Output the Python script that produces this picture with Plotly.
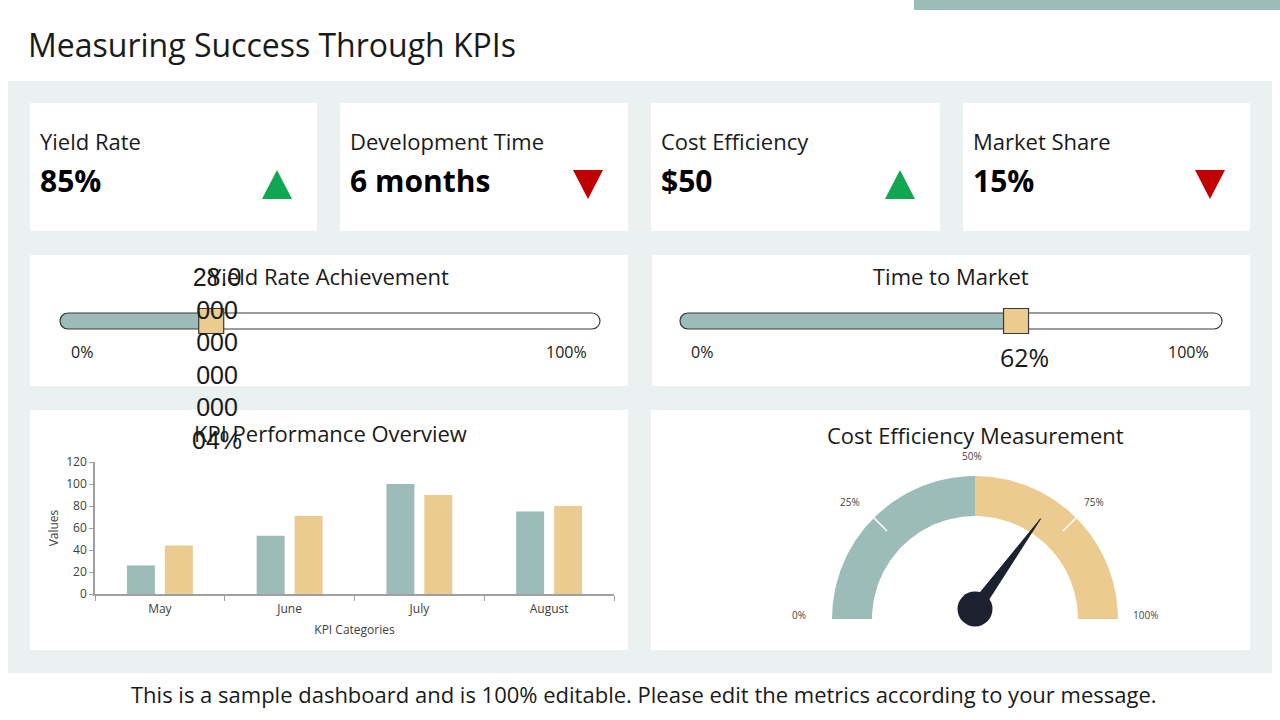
import numpy as np
import plotly.graph_objects as go

W, H = 1280, 720

# ---------------- data ----------------
kpi_names = ["Yield Rate", "Development Time", "Cost Efficiency", "Market Share"]
kpi_values = ["85%", "6 months", "$50", "15%"]
kpi_trend = ["up", "down", "up", "down"]

slider_titles = ["Yield Rate Achievement", "Time to Market"]
slider_values = [28.000000000000004, 62]
slider_labels = ["28.0<br>000<br>000<br>000<br>000<br>04%", "62%"]
slider_min_label = "0%"
slider_max_label = "100%"

months = ["May", "June", "July", "August"]
series_a = [26, 53, 100, 75]
series_b = [44, 71, 90, 80]

gauge_value = 70
gauge_band_edges = [0, 50, 100]
gauge_ticks = [0, 25, 50, 75, 100]
gauge_tick_labels = ["0%", "25%", "50%", "75%", "100%"]

title_text = "Measuring Success Through KPIs"
footer_text = ("This is a sample dashboard and is 100% editable. "
               "Please edit the metrics according to your message.")

# ---------------- style ----------------
TEAL = "#9bbcb9"
TAN = "#ebcb8f"
PANEL = "#ebf0f0"
DARK = "#1c2130"
TXT = "#1a1a1a"
F = "Open Sans"
GREEN = "#11a650"
RED = "#c00000"


def px(x):
    return x / W


def py(y):
    return 1 - y / H


def rect(x0, y0, x1, y1, color):
    return dict(type="rect", xref="paper", yref="paper", layer="below",
                x0=px(x0), x1=px(x1), y0=py(y1), y1=py(y0),
                fillcolor=color, line=dict(width=0))


def path_shape(pts, color):
    d = "M" + " L".join(f"{px(x):.5f},{py(y):.5f}" for x, y in pts) + " Z"
    return dict(type="path", xref="paper", yref="paper", layer="below", path=d,
                fillcolor=color, line=dict(color=color, width=0))


def track_path(x0, x1, yc, h):
    r = h / 2
    k = 0.5523 * r
    p = lambda x, y: f"{px(x):.5f},{py(y):.5f}"
    d = f"M{p(x0 + r, yc - r)} L{p(x1 - r, yc - r)}"
    d += f" C{p(x1 - r + k, yc - r)} {p(x1, yc - k)} {p(x1, yc)}"
    d += f" C{p(x1, yc + k)} {p(x1 - r + k, yc + r)} {p(x1 - r, yc + r)}"
    d += f" L{p(x0 + r, yc + r)}"
    d += f" C{p(x0 + r - k, yc + r)} {p(x0, yc + k)} {p(x0, yc)}"
    d += f" C{p(x0, yc - k)} {p(x0 + r - k, yc - r)} {p(x0 + r, yc - r)} Z"
    return dict(type="path", xref="paper", yref="paper", layer="below", path=d,
                fillcolor="white", line=dict(color="#3a3a3a", width=1.2))


def ann(x, y, text, size, color=TXT, xanchor="center", yanchor="middle",
        family=F, bold=False, **kw):
    if bold:
        text = f"<b>{text}</b>"
    return dict(xref="paper", yref="paper", x=px(x), y=py(y), text=text,
                showarrow=False, xanchor=xanchor, yanchor=yanchor,
                font=dict(size=size, color=color, family=family), **kw)


shapes = []
annotations = []

# page decorations
shapes.append(rect(914, 0, 1280, 10, TEAL))
shapes.append(rect(8, 81, 1272, 673, PANEL))
annotations.append(ann(26, 44, title_text, 32, xanchor="left"))
annotations.append(ann(644, 694, footer_text, 22))

# KPI cards
card_x = [(30, 317), (340, 628), (651, 940), (963, 1250)]
for (x0, x1), name, val, trend in zip(card_x, kpi_names, kpi_values, kpi_trend):
    shapes.append(rect(x0, 103, x1, 231, "white"))
    annotations.append(ann(x0 + 8, 141, name, 22, xanchor="left"))
    annotations.append(ann(x0 + 8, 180, val, 30, xanchor="left", bold=True,
                           color="#000000"))
    cx = x1 - 40
    if trend == "up":
        pts = [(cx - 15, 199), (cx + 15, 199), (cx, 170)]
        col = GREEN
    else:
        pts = [(cx - 15, 170), (cx + 15, 170), (cx, 199)]
        col = RED
    shapes.append(path_shape(pts, col))

# second / third row cards
row2 = [(30, 628), (652, 1250)]
for x0, x1 in row2:
    shapes.append(rect(x0, 255, x1, 386, "white"))
row3 = [(30, 628), (651, 1250)]
for x0, x1 in row3:
    shapes.append(rect(x0, 410, x1, 650, "white"))

fig = go.Figure()

# sliders
tracks = [(60, 600), (680, 1222)]
slider_axes = [("x2", "y2", "xaxis2", "yaxis2"), ("x3", "y3", "xaxis3", "yaxis3")]
layout_axes = {}
for i, ((t0, t1), title, val, (xa, ya, xn, yn)) in enumerate(
        zip(tracks, slider_titles, slider_values, slider_axes)):
    card_c = (row2[i][0] + row2[i][1]) / 2
    annotations.append(ann(card_c, 276, title, 22))
    shapes.append(track_path(t0, t1, 321, 16))
    annotations.append(ann(t0 + 22, 352, slider_min_label, 16))
    annotations.append(ann(t1 - 34, 352, slider_max_label, 16))
    layout_axes[xn] = dict(domain=[px(t0), px(t1)], range=[0, 100], visible=False,
                           fixedrange=True, anchor=ya)
    layout_axes[yn] = dict(domain=[py(329), py(313)], range=[0, 1], visible=False,
                           fixedrange=True, anchor=xa)
    unit = (t1 - t0) / 100.0
    rx = 8 / unit
    th = np.linspace(np.pi / 2, 3 * np.pi / 2, 30)
    xs = list(rx + rx * np.cos(th)) + [val, val, rx]
    ys = list(0.5 + 0.5 * np.sin(th)) + [0, 1, 1]
    fig.add_trace(go.Scatter(x=xs, y=ys, xaxis=xa, yaxis=ya, mode="lines",
                             fill="toself", fillcolor=TEAL, cliponaxis=False,
                             line=dict(color="#3a3a3a", width=1.2),
                             hoverinfo="skip", showlegend=False))
    fig.add_trace(go.Scatter(x=[val], y=[0.5], xaxis=xa, yaxis=ya, mode="markers",
                             cliponaxis=False,
                             marker=dict(symbol="square", size=25, color=TAN,
                                         line=dict(color="#3a3a3a", width=1.2)),
                             hoverinfo="skip", showlegend=False))

# slider value labels (as in the reference)
annotations.append(dict(xref="x2", yref="paper", x=slider_values[0], xshift=6,
                        y=py(358), text=slider_labels[0], showarrow=False,
                        xanchor="center", yanchor="middle",
                        font=dict(size=25, color=TXT, family="Liberation Sans")))
annotations.append(dict(xref="x3", yref="paper", x=slider_values[1], xshift=8,
                        y=py(357), text=slider_labels[1], showarrow=False,
                        xanchor="center", yanchor="middle",
                        font=dict(size=25, color=TXT, family=F)))

# bar chart
annotations.append(ann(330, 433, "KPI Performance Overview", 22))
fig.add_trace(go.Bar(x=months, y=series_a, marker=dict(color=TEAL, line=dict(width=0)),
                     showlegend=False, hoverinfo="skip"))
fig.add_trace(go.Bar(x=months, y=series_b, marker=dict(color=TAN, line=dict(width=0)),
                     showlegend=False, hoverinfo="skip"))

# gauge
annotations.append(ann(975, 435, "Cost Efficiency Measurement", 22))
R_PX = 143.0
CX, CY = 975, 619
gx0, gx1, gy0, gy1 = 760, 1190, 445, 645
layout_axes["xaxis4"] = dict(domain=[px(gx0), px(gx1)],
                             range=[(gx0 - CX) / R_PX, (gx1 - CX) / R_PX],
                             visible=False, fixedrange=True, anchor="y4")
layout_axes["yaxis4"] = dict(domain=[py(gy1), py(gy0)],
                             range=[(CY - gy1) / R_PX, (CY - gy0) / R_PX],
                             visible=False, fixedrange=True, anchor="x4")
r_in = 103 / R_PX
band_colors = [TEAL, TAN]


def ang(v):
    return np.pi * (1 - v / 100.0)


for (a, b), col in zip(zip(gauge_band_edges[:-1], gauge_band_edges[1:]), band_colors):
    t = np.linspace(ang(a), ang(b), 80)
    xs = list(np.cos(t)) + list(r_in * np.cos(t[::-1]))
    ys = list(np.sin(t)) + list(r_in * np.sin(t[::-1]))
    fig.add_trace(go.Scatter(x=xs + [xs[0]], y=ys + [ys[0]], xaxis="x4", yaxis="y4",
                             mode="lines", fill="toself", fillcolor=col,
                             line=dict(width=0, color=col), hoverinfo="skip",
                             showlegend=False))
for tv in gauge_ticks:
    if tv in gauge_band_edges:
        continue
    a = ang(tv)
    fig.add_trace(go.Scatter(x=[np.cos(a), 0.87 * np.cos(a)],
                             y=[np.sin(a), 0.87 * np.sin(a)],
                             xaxis="x4", yaxis="y4", mode="lines",
                             line=dict(color="rgba(255,255,255,0.95)", width=1.5),
                             hoverinfo="skip", showlegend=False))
for tv, tl in zip(gauge_ticks, gauge_tick_labels):
    a = ang(tv)
    annotations.append(dict(xref="x4", yref="y4", x=1.21 * np.cos(a) - 0.02,
                            y=1.11 * np.sin(a) + 0.03, text=tl, showarrow=False,
                            font=dict(size=10, color="#444", family=F)))

# needle
hub_y = 10 / R_PX
a = ang(gauge_value)
L = 0.78
bw = 0.045
tip = (L * np.cos(a), hub_y + L * np.sin(a))
perp = (-np.sin(a), np.cos(a))
nx = [bw * perp[0], tip[0], -bw * perp[0], bw * perp[0]]
ny = [hub_y + bw * perp[1], tip[1], hub_y - bw * perp[1], hub_y + bw * perp[1]]
fig.add_trace(go.Scatter(x=nx, y=ny, xaxis="x4", yaxis="y4", mode="lines",
                         fill="toself", fillcolor=DARK, line=dict(color=DARK, width=1),
                         hoverinfo="skip", showlegend=False))
fig.add_trace(go.Scatter(x=[0], y=[hub_y], xaxis="x4", yaxis="y4", mode="markers",
                         marker=dict(size=35, color=DARK), hoverinfo="skip",
                         showlegend=False))

axis_font = dict(size=12, color="#404040", family=F)
fig.update_layout(
    width=W, height=H, template="none",
    margin=dict(l=0, r=0, t=0, b=0, autoexpand=False),
    paper_bgcolor="white", plot_bgcolor="rgba(0,0,0,0)",
    font=dict(family=F, color=TXT),
    barmode="group", bargap=0.415, bargroupgap=0.263,
    showlegend=False, hovermode=False,
    shapes=shapes, annotations=annotations,
    xaxis=dict(domain=[px(95), px(614)], anchor="y", showgrid=False, zeroline=False,
               showline=True, linecolor="#a0a0a0", linewidth=1.5,
               ticks="outside", ticklen=5, tickcolor="#a0a0a0", tickson="boundaries",
               ticklabelstandoff=3,
               tickfont=axis_font, automargin=False, fixedrange=True,
               title=dict(text="KPI Categories", font=dict(size=12, color="#404040",
                                                          family=F), standoff=9)),
    yaxis=dict(domain=[py(594), py(462)], anchor="x", range=[0, 120], dtick=20,
               showgrid=False, zeroline=False, showline=True, linecolor="#a0a0a0",
               linewidth=1.5, ticks="outside", ticklen=4, tickcolor="#a0a0a0",
               tickfont=axis_font, automargin=False, fixedrange=True,
               title=dict(text="Values", font=dict(size=12, color="#404040", family=F),
                          standoff=5)),
    **layout_axes,
)

fig.write_html("out.html")
